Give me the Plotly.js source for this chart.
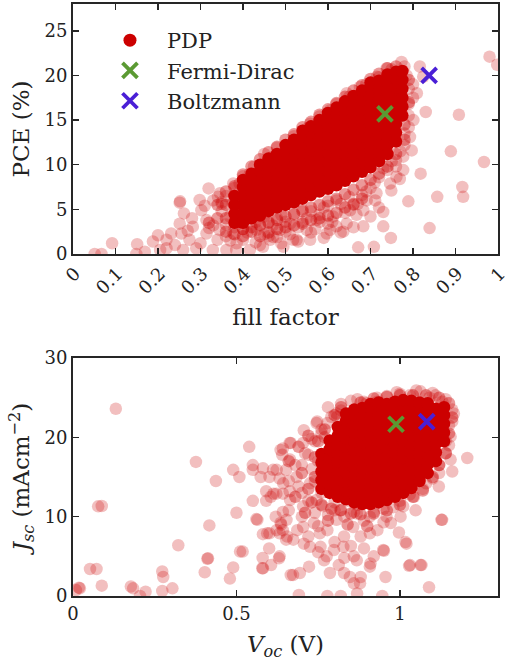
<!DOCTYPE html>
<html>
<head>
<meta charset="utf-8">
<script src="https://cdn.plot.ly/plotly-3.0.1.min.js"></script>
<style>html,body{margin:0;padding:0;background:#fff;}#chart{width:508px;height:668px;}</style>
</head>
<body>
<div id="chart"></div>
<script>
// ---------- Top panel: PCE vs fill factor ----------
const ffSparse = [0.980,0.998,0.830,0.908,0.889,0.967,0.818,0.769,0.916,0.918,0.857,0.789,0.839,0.748,0.708,0.671,0.749,0.730,0.730,0.711,0.683,0.667,0.636,0.597,0.581,0.550,0.518,0.495,0.471,0.400,0.377,
0.051,0.067,0.092,0.151,0.149,0.169,0.188,0.200,0.205,0.220,0.231,0.251,0.261,0.251,0.255,0.259,0.274,0.298,0.319,0.341,0.302,0.314,0.329,0.361,0.282,0.290,0.384,0.345,0.376,0.392,0.369,0.314,0.252,
0.385,0.416,0.447,0.464,0.432,0.487,0.526,0.511,0.558,0.573,0.605,0.612,0.644,0.652,0.683,0.691,0.714,0.746,0.761,0.777,0.777,
0.558,0.605,0.644,0.675,0.715,0.738,0.773,0.816,0.824,0.809,0.801,0.793,0.797,0.471,0.503,0.534,0.426,0.416,0.377,0.346,0.330,
0.33,0.35,0.36,0.37,0.39,0.40,0.41,0.42,0.43,0.44,0.45,0.46,0.48,0.50,0.53,0.55,0.57,0.60,0.62,0.35,0.38,0.31,0.28,0.27,0.24,0.22,0.30,0.34,0.32,
0.66,0.70,0.72,0.74,0.68,0.63,0.59,0.54,0.49,0.45,0.76,0.78,0.79,0.79,0.80,0.78,
0.36,0.38,0.40,0.41,0.43,0.44,0.46,0.47,0.48,0.49,0.50,0.51,0.52,0.53,0.54,0.56,0.56,0.58,0.59,0.60,0.61,0.62,0.63,0.64,0.65,0.66,0.67,0.69,0.70,0.71,0.72,0.73,0.75,0.76,0.77,0.78,0.79,0.80,0.79,0.785,
0.45,0.48,0.52,0.55,0.58,0.62,0.65,0.69,0.72,0.75,0.40,0.38,0.36,0.35];
const pceSparse = [22.1,21.2,15.9,15.6,11.5,10.3,9.0,8.4,7.5,6.4,6.4,5.9,2.9,1.8,0.8,0.75,7.1,3.1,4.7,6.0,3.1,4.4,2.5,2.3,3.6,2.7,1.6,0.8,1.9,1.6,2.3,
0,0,1.2,1.1,0,0.26,1.4,2.1,0.45,0.64,2.3,5.75,4.55,3.4,2.3,0.45,1.6,6.05,7.35,6.4,4.9,3.8,0.45,0.45,3.06,0.64,0.45,2.7,5.7,7.9,4.2,2.3,5.9,
1.2,0.45,0.8,1.6,2.7,2.7,1.6,3.4,1.6,3.8,2.7,4.2,3.4,4.9,4.9,6.0,6.8,7.9,8.65,9.4,10.9,
14.6,16.1,18.0,18.7,19.85,20.8,21.5,21.0,19.85,18.0,15.0,13.1,11.6,10.9,11.6,12.8,9.8,9.0,7.9,6.8,6.0,
3.2,4.8,3.3,1.5,3.6,5.2,2.4,4.1,1.3,3.3,2.2,3.6,1.9,2.5,3.0,4.0,2.8,3.4,3.1,5.6,6.5,5.4,4.0,2.6,1.0,1.6,1.2,1.6,2.9,
5.5,7.4,8.6,9.4,6.6,5.6,5.2,5.0,4.4,4.2,10.5,12.2,14.2,16.8,19.0,21.0,
2.0,3.0,2.8,4.0,3.6,1.0,2.0,3.2,4.0,1.2,3.6,2.2,4.4,1.4,3.6,2.4,4.8,4.4,1.8,5.4,3.6,6.0,2.4,4.6,6.4,3.0,5.6,7.0,4.2,8.0,5.2,9.6,10.4,9.8,11.5,13.5,15.5,17.5,18.5,20.0,
11.2,11.9,13.2,14.0,15.4,16.8,17.6,19.0,19.8,20.7,8.7,7.4,6.5,5.8];

// medium-density fringe of the PCE cloud
const ffMid = [0.36,0.36,0.38,0.40,0.40,0.42,0.42,0.44,0.44,0.46,0.46,0.48,0.48,0.50,0.50,0.52,0.52,0.54,0.54,0.56,0.56,0.58,0.58,0.60,0.60,0.62,0.62,0.64,0.64,0.66,0.66,0.68,0.68,0.70,0.72,0.74,0.76,0.78,0.78,0.79,0.79,0.34,0.34,0.36,0.36,0.32,
0.38,0.40,0.42,0.44,0.46,0.48,0.50,0.52,0.54,0.56,0.58,0.60,0.62,0.64,0.66,0.68,0.70,0.72,0.74,0.76];
const pceMid = [2.5,4.0,2.2,2.0,2.8,2.5,3.0,3.2,2.0,3.5,2.4,3.8,2.8,4.2,3.0,4.5,3.2,4.8,3.4,5.2,3.8,5.5,4.0,5.9,4.3,6.2,4.6,6.7,5.2,7.2,5.6,7.7,6.2,8.3,9.0,9.8,11.2,14.5,12.8,17.0,19.5,4.0,5.5,5.5,7.0,3.5,
7.6,8.9,9.8,10.6,11.4,12.0,12.8,13.4,14.2,14.8,15.6,16.2,16.9,17.6,18.3,18.9,19.6,20.2,20.8,21.0];

// dense core of the PCE cloud, one PCE list per fill-factor column
const ffCoreCols = [0.38,0.40,0.42,0.44,0.46,0.48,0.50,0.52,0.54,0.56,0.58,0.60,0.62,0.64,0.66,0.68,0.70,0.72,0.74,0.76,0.775];
const pceCoreCols = [
 [3.5,4.5,5.5,6.5],
 [3.5,4.5,5.5,6.5,7.5,8.3],
 [4,5,6,7,8,9],
 [4.3,5.3,6.3,7.3,8.3,9.3,10],
 [4.8,5.8,6.8,7.8,8.8,9.8,10.7],
 [5.2,6.2,7.2,8.2,9.2,10.2,11.2],
 [5.5,6.5,7.5,8.5,9.5,10.5,11.5,12.2],
 [5.8,6.8,7.8,8.8,9.8,10.8,11.8,12.8],
 [6.2,7.2,8.2,9.2,10.2,11.2,12.2,13.2,13.8],
 [6.6,7.6,8.6,9.6,10.6,11.6,12.6,13.6,14.3],
 [7,8,9,10,11,12,13,14,15],
 [7.3,8.3,9.3,10.3,11.3,12.3,13.3,14.3,15.3,15.8],
 [7.7,8.7,9.7,10.7,11.7,12.7,13.7,14.7,15.7,16.4],
 [8.2,9.2,10.2,11.2,12.2,13.2,14.2,15.2,16.2,17.1],
 [8.7,9.7,10.7,11.7,12.7,13.7,14.7,15.7,16.7,17.7],
 [9.2,10.2,11.2,12.2,13.2,14.2,15.2,16.2,17.2,18.3],
 [9.7,10.7,11.7,12.7,13.7,14.7,15.7,16.7,17.7,18.7,19.2],
 [10.4,11.4,12.4,13.4,14.4,15.4,16.4,17.4,18.4,19.4],
 [11.2,12.2,13.2,14.2,15.2,16.2,17.2,18.2,19.2,20.1],
 [12.6,13.6,14.6,15.6,16.6,17.6,18.6,19.6,20.4],
 [15.5,16.5,17.5,18.5,19.5,20.5]
];
const ffFermi = [0.734], pceFermi = [15.7];
const ffBoltz = [0.838], pceBoltz = [20.0];

// ---------- Bottom panel: Jsc vs Voc ----------
const vocSparse = [0.131,0.077,0.088,0.052,0.072,0.088,0.018,0.021,0.009,0.177,0.184,0.205,0.222,0.273,0.276,0.273,0.304,0.322,0.376,0.403,0.411,0.417,0.437,0.48,0.49,0.49,0.50,0.509,0.511,0.519,0.539,
0.55,0.55,0.581,0.601,0.612,0.632,0.642,0.64,0.663,0.652,0.55,0.591,0.591,0.622,0.642,0.663,0.561,0.642,0.581,0.601,0.637,0.642,0.632,0.652,0.413,0.632,0.606,0.581,0.673,
1.206,1.129,1.089,1.028,1.063,1.017,0.997,0.951,0.956,0.946,0.869,0.819,0.778,0.691,0.666,0.722,0.579,0.63,0.594,0.768,0.813,0.829,0.859,0.88,0.91,0.92,0.859,0.798,0.757,0.706,0.655,0.635,0.686,0.737,0.778,0.829,0.88,0.931,0.972,0.564,0.605,0.574,0.635,0.666,0.706,0.747,0.778,0.808,0.89,0.931,0.90,1.063,1.109,1.165,1.155,1.155,1.16,1.119,1.043,1.048,1.002,
0.694,0.786,0.847,0.878,0.908,0.949,1.02,1.031,1.066,1.127,0.623,0.664,0.704,0.745,0.806,0.898,0.664,0.704,0.745,0.653,0.704,0.755,0.806,0.857,0.908,0.725,0.776,0.827,0.868,0.674,0.623,0.613,0.643,0.684,0.725,0.765,0.817,0.868,0.908,0.959,1.01,
0.70,0.72,0.74,0.76,0.78,0.82,0.85,0.96,1.0,1.03,1.09,1.13,1.16,1.15,1.14,1.12,1.10,1.07,1.00,0.95,0.87,0.84,0.80,0.76,0.74,0.73,0.75,
0.70,0.72,0.74,0.71,0.73,0.76,0.68,0.69,0.66,0.75,0.78,0.80,0.83,0.86,0.89,0.92,0.95,0.98,1.03,1.08,1.12,1.14,1.15,1.16,1.14,1.10,1.05,0.99,0.93,0.87,0.82,0.79,0.77,0.72,0.75,0.80,0.85,0.89,0.83,0.70,0.66,0.62,0.60,0.58];
const jscSparse = [23.6,11.3,11.35,3.4,3.4,1.3,1.05,0.97,0.75,1.2,0.97,0,0.55,3.1,2.4,0.63,0.97,6.4,16.9,3.0,4.7,8.9,14.5,2.2,3.6,15.9,10.5,15.0,5.6,5.6,18.8,
16.5,15.9,16.1,15.0,15.9,14.8,18.6,17.8,19.3,15.9,12.0,13.2,12.0,12.9,12.9,13.2,9.7,10.6,7.8,7.9,9.0,8.3,7.9,7.1,4.75,5.0,3.9,3.5,2.65,
17.4,9.6,1.1,3.8,3.9,6.8,8.0,5.7,2.4,0,0.33,0,0,0.13,2.65,3.7,3.5,4.75,7.9,4.5,3.9,2.9,1.6,2.4,4.1,5.0,5.0,5.8,6.2,6.6,7.5,9.2,8.3,9.2,8.3,7.5,7.5,8.3,9.2,9.6,12.5,15.0,18.4,19.3,20.9,22.0,21.8,22.6,24.5,24.5,23.5,25.8,25.3,23.0,20.1,17.2,15.7,13.8,12.5,10.8,10.0,
2.9,2.9,2.4,1.6,3.7,5.8,6.6,3.9,3.9,9.6,15.9,17.2,19.3,21.8,23.0,24.3,12.1,11.3,12.1,9.6,8.7,7.9,9.6,8.7,7.9,6.2,5.0,6.2,4.5,7.1,8.3,12.9,14.2,15.0,14.2,11.3,10.8,10.4,10.0,10.0,11.3,
16.5,17.8,19.5,20.5,23.8,24.2,24.6,25.2,25.5,25.3,25.0,24.5,22.0,19.0,18.0,16.5,14.8,13.5,12.0,11.0,11.5,12.0,11.8,13.0,14.5,16.0,17.0,
13.0,12.0,10.5,18.0,19.8,21.0,16.5,13.8,14.5,8.8,10.2,10.8,10.0,10.6,9.5,10.6,9.3,11.2,12.8,14.2,15.5,19.5,21.5,23.5,24.8,25.6,25.9,25.7,25.0,24.8,23.4,22.6,20.0,7.5,5.5,6.8,6.3,6.0,4.8,10.0,10.8,10.0,6.0,4.8];

// medium-density fringe of the Jsc cloud
const vocMid = [0.74,0.74,0.75,0.77,0.80,0.82,0.72,0.73,0.76,0.79,0.82,0.85,0.88,0.92,0.96,1.00,1.04,1.07,1.10,1.12,1.14,1.15,1.16,1.15,1.12,1.08,1.04,1.00,0.96,0.92,0.88,0.70,0.68,0.71,0.78,0.84,0.90,0.66,0.69,0.72];
const jscMid = [15.0,17.5,19.5,21.0,22.8,23.8,13.5,11.8,11.5,11.0,10.8,10.4,10.3,10.4,10.8,11.5,12.5,13.3,15.0,16.5,18.0,20.5,22.5,24.3,25.0,25.3,25.3,25.3,25.1,24.9,24.4,15.5,12.5,10.5,9.5,9.0,8.8,17.0,18.8,20.2];

const vocCoreCols = [0.76,0.785,0.81,0.835,0.86,0.885,0.91,0.935,0.96,0.985,1.01,1.035,1.06,1.085,1.11,1.135];
const jscCoreCols = [
 [13.5,14.6,15.7,16.8,17.9],
 [13,14.1,15.2,16.3,17.4,18.5,19.6],
 [12.5,13.6,14.7,15.8,16.9,18,19.1,20.2,21.3],
 [12.2,13.3,14.4,15.5,16.6,17.7,18.8,19.9,21,22.1,23],
 [11.8,12.9,14,15.1,16.2,17.3,18.4,19.5,20.6,21.7,22.8,23.5],
 [11.6,12.7,13.8,14.9,16,17.1,18.2,19.3,20.4,21.5,22.6,23.7],
 [11.6,12.7,13.8,14.9,16,17.1,18.2,19.3,20.4,21.5,22.6,23.7,24.2],
 [11.8,12.9,14,15.1,16.2,17.3,18.4,19.5,20.6,21.7,22.8,23.9,24.4],
 [12.1,13.2,14.3,15.4,16.5,17.6,18.7,19.8,20.9,22,23.1,24.2],
 [12.5,13.6,14.7,15.8,16.9,18,19.1,20.2,21.3,22.4,23.5,24.5],
 [13,14.1,15.2,16.3,17.4,18.5,19.6,20.7,21.8,22.9,24,24.7],
 [13.6,14.7,15.8,16.9,18,19.1,20.2,21.3,22.4,23.5,24.6],
 [14.5,15.6,16.7,17.8,18.9,20,21.1,22.2,23.3,24.4],
 [15.5,16.6,17.7,18.8,19.9,21,22.1,23.2,24.3],
 [17,18.1,19.2,20.3,21.4,22.5,23.6],
 [19.5,20.6,21.7,22.8,23.8]
];
const vocFermi = [0.988], jscFermi = [21.65];
const vocBoltz = [1.082], jscBoltz = [21.98];

// tick labels
const ffTicks = [0,0.1,0.2,0.3,0.4,0.5,0.6,0.7,0.8,0.9,1];
const ffTickText = ["0","0.1","0.2","0.3","0.4","0.5","0.6","0.7","0.8","0.9","1"];
const pceTicks = [0,5,10,15,20,25];
const vocTicks = [0,0.5,1];
const vocTickText = ["0","0.5","1"];
const jscTicks = [0,10,20,30];
const seriesNames = ["PDP","Fermi-Dirac","Boltzmann"];

// ---------- build ----------
function flatten(xs, cols){
  const X=[],Y=[];
  xs.forEach((x,i)=>cols[i].forEach(y=>{X.push(x);Y.push(y);}));
  return [X,Y];
}
const [ffCore, pceCore] = flatten(ffCoreCols, pceCoreCols);
const [vocCore, jscCore] = flatten(vocCoreCols, jscCoreCols);

const RED = 'rgb(204,0,0)', GREEN = '#5b9a33', BLUE = '#4a1fd6';
const FONT = 'DejaVu Serif, serif';
const ptSize = 12.5;

function cloud(x,y,xa,ya,op){
  return {type:'scatter',mode:'markers',x:x,y:y,xaxis:xa,yaxis:ya,showlegend:false,hoverinfo:'skip',
    marker:{color:RED,size:ptSize,opacity:op,line:{width:0}}};
}
function cross(x,y,xa,ya,color,name,show){
  return {type:'scatter',mode:'markers',x:x,y:y,xaxis:xa,yaxis:ya,name:name,showlegend:show,
    marker:{symbol:'x-thin',size:15,color:color,line:{color:color,width:3.8}}};
}

const traces = [
  cloud(ffSparse,pceSparse,'x','y',0.25),
  cloud(ffMid,pceMid,'x','y',0.4),
  cloud(ffCore,pceCore,'x','y',1),
  cloud(vocSparse,jscSparse,'x2','y2',0.25),
  cloud(vocMid,jscMid,'x2','y2',0.4),
  cloud(vocCore,jscCore,'x2','y2',1),
  {type:'scatter',mode:'markers',x:[null],y:[null],xaxis:'x',yaxis:'y',name:seriesNames[0],showlegend:true,
    marker:{color:RED,size:13,opacity:1}},
  cross(ffFermi,pceFermi,'x','y',GREEN,seriesNames[1],true),
  cross(ffBoltz,pceBoltz,'x','y',BLUE,seriesNames[2],true),
  cross(vocFermi,jscFermi,'x2','y2',GREEN,seriesNames[1],false),
  cross(vocBoltz,jscBoltz,'x2','y2',BLUE,seriesNames[2],false)
];

const AX = {showgrid:false,zeroline:false,showline:true,mirror:'ticks',linecolor:'#262626',linewidth:2,
  ticks:'inside',ticklen:6,tickwidth:1.5,tickcolor:'#262626',
  tickfont:{family:FONT,size:18,color:'#222'},automargin:false,ticklabeloverflow:'allow'};
const TF = {family:FONT,size:23,color:'#222'};

const layout = {
  width:508,height:668,
  margin:{l:73,r:10,t:4,b:72},
  paper_bgcolor:'#fff',plot_bgcolor:'#fff',
  showlegend:true,
  legend:{x:0.047,y:0.973,xanchor:'left',yanchor:'top',bgcolor:'rgba(0,0,0,0)',itemwidth:64,
    font:{family:FONT,size:21,color:'#222'},tracegroupgap:0,itemsizing:'trace'},
  xaxis:Object.assign({},AX,{domain:[0,1],anchor:'y',range:[0,1],tickvals:ffTicks,ticktext:ffTickText,
    tickangle:-45,ticklabelshift:2,title:{text:'fill factor',font:TF,standoff:12}}),
  yaxis:Object.assign({},AX,{domain:[0.5777,1],anchor:'x',range:[0,28],tickvals:pceTicks,
    title:{text:'PCE (%)',font:TF,standoff:8}}),
  xaxis2:Object.assign({},AX,{domain:[0,1],anchor:'y2',range:[0,1.3],tickvals:vocTicks,ticktext:vocTickText,
    title:{text:'<i>V</i><sub><i>oc</i></sub> (V)',font:TF,standoff:13}}),
  yaxis2:Object.assign({},AX,{domain:[0,0.402],anchor:'x2',range:[0,30],tickvals:jscTicks,
    title:{text:'<i>J</i><sub><i>sc</i></sub> (mAcm<sup>−2</sup>)',font:TF,standoff:8}})
};

Plotly.newPlot('chart',traces,layout,{displayModeBar:false,staticPlot:true});
</script>
</body>
</html>
